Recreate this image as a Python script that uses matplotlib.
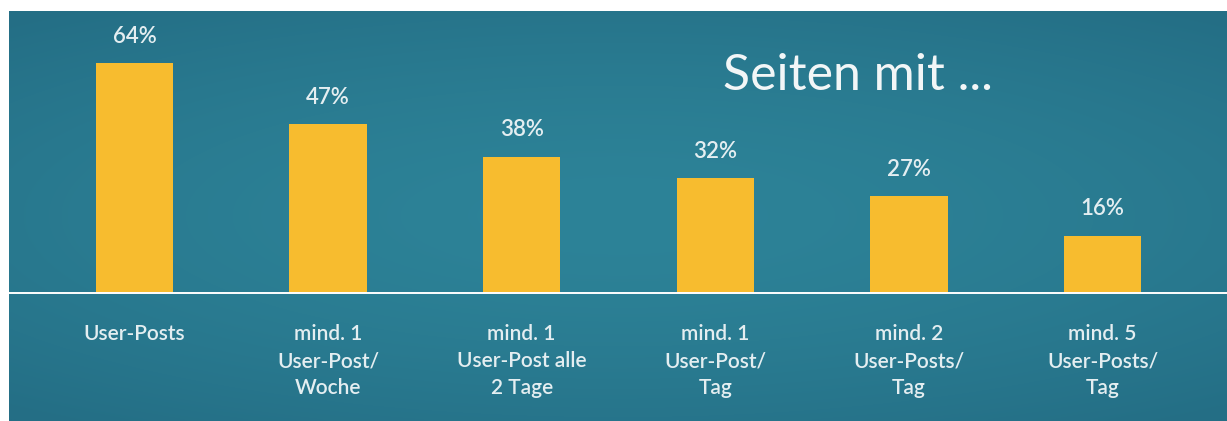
import numpy as np
import matplotlib
matplotlib.use('Agg')
import matplotlib.pyplot as plt

# values
categories = ['User-Posts',
              'mind. 1\nUser-Post/\nWoche',
              'mind. 1\nUser-Post alle\n2 Tage',
              'mind. 1\nUser-Post/\nTag',
              'mind. 2\nUser-Posts/\nTag',
              'mind. 5\nUser-Posts/\nTag']
shares = [64, 47, 38, 32, 27, 16]
title = 'Seiten mit ...'

bar_color = '#F7BC2F'
text_color = '#E4EEF1'
font = ['Lato', 'DejaVu Sans']

W, H = 1227, 421
fig = plt.figure(figsize=(W / 100, H / 100), dpi=100, facecolor='white')
ax = fig.add_axes([9 / W, 0, 1 - 9 / W, (H - 11) / H])

x = np.arange(len(shares))
xlim = (-0.648, 5.643)
ylim = (-35.6, 78.5)
ax.set_xlim(*xlim)
ax.set_ylim(*ylim)

# teal background with a soft darker vignette
gx, gy = np.meshgrid(np.linspace(-1, 1, 400), np.linspace(-1, 1, 140))
r = np.clip(np.sqrt((gx * 0.9) ** 2 + (gy * 1.1) ** 2), 0, 1.4)
c_mid = np.array([0x2D, 0x83, 0x98]) / 255
c_edge = np.array([0x24, 0x6E, 0x85]) / 255
t = (r / 1.4)[..., None] ** 1.6
img = c_mid * (1 - t) + c_edge * t
ax.imshow(img, extent=(*xlim, *ylim), aspect='auto', zorder=0, interpolation='bicubic')

ax.bar(x, shares, width=0.40, color=bar_color, zorder=2)
ax.axhline(0, color='white', lw=1.4, zorder=3)

for xi, v in zip(x, shares):
    ax.text(xi, v + 4.6, f'{v}%', ha='center', va='bottom', color=text_color,
            fontsize=16, family=font, weight='semibold', zorder=4)

for xi, lab in zip(x, categories):
    ax.text(xi, -8.6, lab, ha='center', va='top', color=text_color,
            fontsize=15, family=font, weight='semibold', linespacing=1.45, zorder=4)

ax.text(3.04, 60.5, title, ha='left', va='center', color='#F2F6F7',
        fontsize=36, family=font, zorder=4)

ax.axis('off')
fig.savefig('out.png', dpi=100, facecolor='white')
